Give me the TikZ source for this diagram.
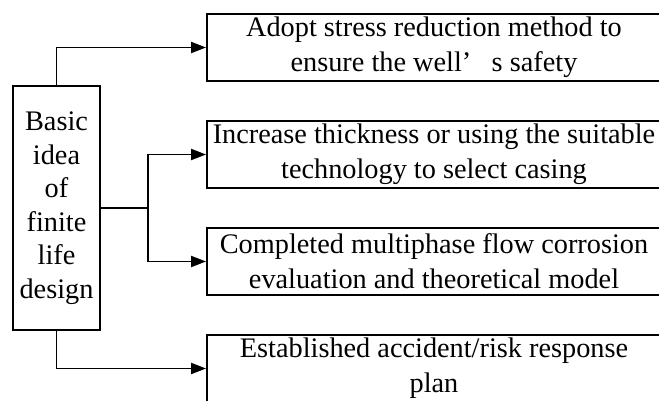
\documentclass[tikz,border=0pt]{standalone}
\usepackage{fontspec}
\setmainfont{Liberation Serif}
\usetikzlibrary{arrows.meta}
\begin{document}
\begin{tikzpicture}
  [x=1pt,y=-1pt,line width=1.9pt,
   every node/.style={font=\fontsize{28.3}{35}\selectfont,align=center,inner sep=0pt},
   idea/.style={draw,minimum width=87pt,minimum height=244pt,font=\fontsize{28.3}{33.5}\selectfont},
   plan/.style={draw,minimum width=454pt,minimum height=67pt},
   link/.style={-{Triangle[length=15pt,width=11pt]}}]

  \useasboundingbox (0,0) rectangle (659,401);

  \node [idea] (basic) at (56.5,208) {Basic\\idea\\of\\finite\\life\\design};

  \node [plan] (stress) at (434,47.5)
    {Adopt stress reduction method to\\ensure the well’\hspace{0.72em}s safety};
  \node [plan] (casing) at (434,154.5)
    {Increase thickness or using the suitable\\technology to select casing};
  \node [plan] (model) at (434,261.5)
    {Completed multiphase flow corrosion\\evaluation and theoretical model};
  \node [plan] (risk) at (434,368.5)
    {Established accident/risk response\\plan};

  \coordinate (fork) at (148,208);

  \draw [link] (basic.north) |- (stress.west);
  \draw (basic.east) -- (fork);
  \draw [link] (fork) |- (casing.west);
  \draw [link] (fork) |- (model.west);
  \draw [link] (basic.south) |- (risk.west);
\end{tikzpicture}
\end{document}
